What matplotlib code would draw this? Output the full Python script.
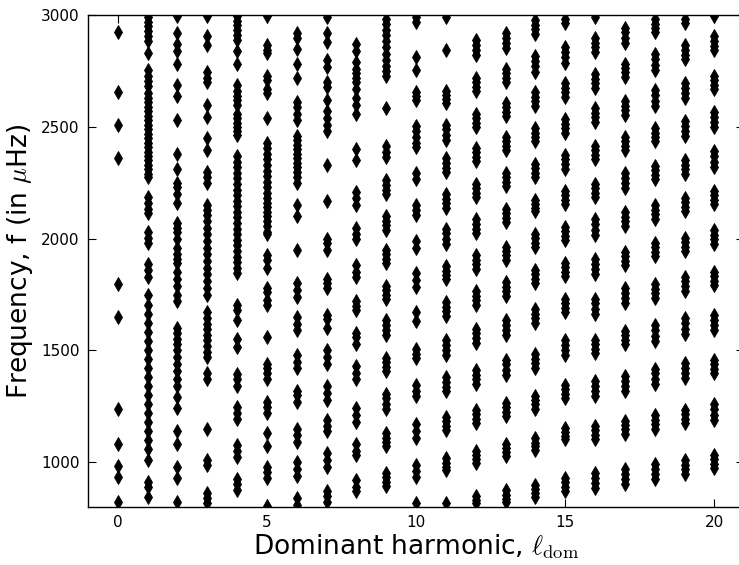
import matplotlib
matplotlib.use("Agg")
import matplotlib.pyplot as plt

plt.rcParams['mathtext.fontset'] = 'cm'
plt.rcParams['font.family'] = ['DejaVu Sans']

# Frequencies (muHz) of modes grouped by dominant harmonic l
l0 = [2923, 2656, 2507, 2359, 1798, 1651, 1236, 1082, 984, 934, 822]
l1 = [2990, 2970, 2950, 2930, 2905, 2885, 2830, 2755, 2730, 2705, 2685,
      2650, 2630, 2610, 2590, 2570, 2550, 2530, 2510, 2490, 2470, 2450, 2430,
      2410, 2390, 2370, 2350, 2330, 2310, 2290, 2275, 2185, 2160, 2135, 2115,
      2030, 2005, 1980, 1887, 1860, 1830, 1747, 1702, 1662, 1622, 1582, 1541,
      1501, 1461, 1421, 1381, 1341, 1300, 1260, 1220, 1180, 1140, 1100, 1059,
      1011, 910, 890, 845]
l2 = [2995, 2920, 2870, 2840, 2780, 2690, 2640, 2530, 2380, 2310, 2250,
      2230, 2200, 2160, 2070, 2050, 2030, 2000, 1960, 1930, 1910, 1890, 1850,
      1820, 1790, 1750, 1720, 1600, 1580, 1550, 1530, 1500, 1470, 1440, 1410,
      1370, 1340, 1290, 1240, 1140, 1080, 980, 930, 820]
l3 = [2998, 2907, 2865, 2745, 2720, 2700, 2600, 2545, 2450, 2395, 2300,
      2275, 2250, 2150, 2130, 2105, 2080, 2050, 2020, 1990, 1960, 1930, 1900,
      1870, 1840, 1810, 1780, 1750, 1670, 1645, 1620, 1595, 1570, 1545, 1520,
      1495, 1470, 1400, 1370, 1150, 1010, 985, 860, 840, 815]
l4 = [2995, 2975, 2955, 2935, 2910, 2890, 2840, 2780, 2690, 2660, 2640,
      2620, 2600, 2560, 2540, 2520, 2500, 2480, 2465, 2370, 2345, 2320, 2295,
      2270, 2245, 2220, 2195, 2170, 2145, 2120, 2095, 2070, 2045, 2020, 1995,
      1970, 1945, 1920, 1895, 1870, 1845, 1705, 1680, 1635, 1550, 1515, 1395,
      1370, 1340, 1245, 1220, 1195, 1075, 1050, 1025, 925, 900, 875]
l5 = [2995, 2865, 2845, 2830, 2730, 2710, 2670, 2650, 2540, 2430, 2405,
      2380, 2355, 2330, 2305, 2280, 2255, 2230, 2205, 2180, 2160, 2140, 2120,
      2100, 2080, 2055, 2030, 2020, 1925, 1905, 1870, 1780, 1760, 1725, 1705,
      1560, 1440, 1420, 1400, 1370, 1270, 1245, 1220, 1130, 1070, 980, 955,
      930, 805]
l6 = [2920, 2900, 2850, 2780, 2720, 2610, 2590, 2560, 2530, 2460, 2440,
      2420, 2400, 2380, 2360, 2340, 2320, 2300, 2275, 2250, 2150, 2100, 1950,
      1800, 1770, 1740, 1650, 1620, 1590, 1480, 1450, 1420, 1320, 1300, 1270,
      1150, 1120, 1090, 1000, 970, 940, 840, 810]
l7 = [2990, 2920, 2880, 2800, 2770, 2700, 2680, 2620, 2570, 2540, 2510,
      2480, 2330, 2170, 2000, 1980, 1950, 1820, 1800, 1780, 1660, 1640, 1600,
      1500, 1470, 1440, 1340, 1310, 1280, 1190, 1160, 1140, 1040, 1010, 980,
      870, 850, 820]
l8 = [2870, 2840, 2790, 2760, 2740, 2720, 2700, 2670, 2630, 2600, 2560,
      2400, 2350, 2210, 2180, 2150, 2050, 2020, 2000, 1880, 1850, 1830, 1720,
      1700, 1680, 1580, 1560, 1530, 1430, 1400, 1370, 1240, 1210, 1180, 1080,
      1050, 1030, 920, 890, 870]
l9 = [2985, 2960, 2935, 2910, 2885, 2860, 2825, 2800, 2775, 2750, 2730,
      2586, 2415, 2390, 2365, 2262, 2240, 2220, 2200, 2100, 2080, 2060, 2040,
      1950, 1930, 1910, 1890, 1790, 1770, 1750, 1728, 1636, 1614, 1590, 1567,
      1467, 1447, 1427, 1407, 1307, 1285, 1261, 1238, 1130, 1110, 1090, 1070,
      953, 933, 913, 893]
l10 = [2990, 2970, 2815, 2754, 2655, 2640, 2620, 2505, 2480, 2455, 2430,
       2410, 2295, 2265, 2150, 2130, 2105, 1990, 1960, 1845, 1815, 1785, 1670,
       1630, 1505, 1485, 1465, 1345, 1320, 1295, 1170, 1140, 1110, 985, 960,
       935, 815]
l11 = [2990, 2843, 2662, 2645, 2625, 2608, 2510, 2490, 2465, 2443, 2360,
       2340, 2318, 2298, 2198, 2178, 2158, 2138, 2045, 2025, 2000, 1977, 1877,
       1857, 1837, 1818, 1716, 1696, 1676, 1656, 1547, 1525, 1502, 1479, 1379,
       1358, 1338, 1318, 1202, 1182, 1162, 1142, 1017, 998, 980, 965, 815]
l12 = [2889, 2867, 2843, 2820, 2720, 2700, 2680, 2660, 2559, 2539, 2519,
       2499, 2407, 2387, 2367, 2347, 2246, 2226, 2206, 2186, 2086, 2066, 2045,
       2025, 1925, 1905, 1885, 1865, 1764, 1744, 1724, 1704, 1596, 1576, 1555,
       1535, 1411, 1391, 1371, 1351, 1234, 1214, 1194, 1174, 1050, 1032, 1015,
       997, 849, 830, 815]
l13 = [2921, 2899, 2875, 2853, 2760, 2740, 2720, 2700, 2608, 2588, 2567,
       2547, 2455, 2435, 2415, 2395, 2294, 2274, 2254, 2234, 2134, 2114, 2093,
       2073, 1965, 1945, 1925, 1905, 1804, 1784, 1764, 1744, 1636, 1614, 1590,
       1567, 1459, 1437, 1413, 1391, 1266, 1246, 1226, 1206, 1082, 1063, 1046,
       1029, 873, 855, 837, 820]
l14 = [2977, 2957, 2937, 2917, 2817, 2795, 2771, 2748, 2656, 2636, 2615,
       2595, 2495, 2475, 2455, 2435, 2335, 2315, 2294, 2274, 2174, 2155, 2138,
       2122, 2021, 2001, 1981, 1961, 1861, 1841, 1820, 1800, 1684, 1664, 1644,
       1624, 1483, 1463, 1443, 1423, 1298, 1278, 1258, 1238, 1106, 1087, 1070,
       1053, 897, 879, 862, 845]
l15 = [2985, 2965, 2857, 2835, 2811, 2788, 2696, 2676, 2656, 2636, 2535,
       2515, 2495, 2475, 2375, 2355, 2334, 2314, 2214, 2194, 2174, 2154, 2053,
       2033, 2013, 1993, 1893, 1873, 1852, 1832, 1732, 1712, 1692, 1672, 1547,
       1525, 1502, 1479, 1347, 1327, 1306, 1286, 1154, 1135, 1118, 1102, 929,
       909, 889, 869]
l16 = [2990, 2897, 2877, 2856, 2836, 2736, 2716, 2696, 2676, 2584, 2564,
       2543, 2523, 2415, 2395, 2375, 2355, 2246, 2226, 2206, 2186, 2086, 2064,
       2040, 2017, 1909, 1887, 1863, 1840, 1732, 1710, 1687, 1664, 1547, 1527,
       1507, 1487, 1363, 1341, 1317, 1294, 1162, 1142, 1122, 1102, 953, 931,
       907, 885]
l17 = [2945, 2923, 2899, 2877, 2784, 2764, 2744, 2724, 2616, 2596, 2575,
       2555, 2455, 2435, 2415, 2395, 2294, 2272, 2248, 2226, 2118, 2098, 2077,
       2057, 1941, 1921, 1901, 1881, 1780, 1758, 1734, 1712, 1588, 1568, 1547,
       1527, 1387, 1365, 1341, 1318, 1186, 1166, 1146, 1126, 969, 947, 923, 901]
l18 = [2985, 2963, 2941, 2925, 2825, 2803, 2779, 2756, 2664, 2642, 2618,
       2595, 2495, 2475, 2455, 2435, 2327, 2307, 2286, 2266, 2150, 2130, 2109,
       2089, 1981, 1961, 1941, 1921, 1796, 1776, 1756, 1736, 1612, 1590, 1566,
       1543, 1419, 1397, 1373, 1351, 1210, 1190, 1170, 1150, 993, 971, 947, 925]
l19 = [2985, 2965, 2865, 2845, 2824, 2804, 2696, 2674, 2650, 2628, 2527,
       2505, 2481, 2459, 2351, 2331, 2310, 2290, 2182, 2162, 2142, 2122, 2005,
       1985, 1965, 1945, 1829, 1809, 1788, 1768, 1644, 1622, 1598, 1575, 1443,
       1421, 1397, 1375, 1234, 1214, 1194, 1174, 1009, 989, 969, 949]
l20 = [2995, 2905, 2885, 2864, 2844, 2728, 2708, 2688, 2668, 2568, 2546,
       2522, 2499, 2391, 2369, 2345, 2322, 2214, 2194, 2174, 2154, 2037, 2017,
       1997, 1977, 1853, 1833, 1812, 1792, 1660, 1638, 1614, 1592, 1459, 1439,
       1419, 1399, 1258, 1236, 1212, 1190, 1033, 1013, 993, 973]

modes = [l0, l1, l2, l3, l4, l5, l6, l7, l8, l9, l10, l11, l12, l13, l14,
         l15, l16, l17, l18, l19, l20]

xticks = [0, 5, 10, 15, 20]
yticks = [1000, 1500, 2000, 2500, 3000]

fig = plt.figure(figsize=(7.39, 5.65), dpi=100)
ax = fig.add_axes([0.119, 0.103, 0.888, 0.870])

for ell, freqs in enumerate(modes):
    ax.plot([ell] * len(freqs), freqs, linestyle='none', marker='d',
            color='black', markersize=7, markeredgewidth=0.6)

ax.set_xlim(-1, 21)
ax.set_ylim(800, 3000)
ax.set_xticks(xticks)
ax.set_yticks(yticks)
ax.tick_params(direction='in', length=6, width=0.8, labelsize=11,
               top=True, right=True, pad=6)
for s in ax.spines.values():
    s.set_linewidth(1.0)

ax.set_xlabel(r'Dominant harmonic, $\ell_{\rm dom}$', fontsize=19, labelpad=2)
ax.set_ylabel(r'Frequency, f (in $\mu$Hz)', fontsize=19, labelpad=4)

fig.savefig('out.png', dpi=100)
